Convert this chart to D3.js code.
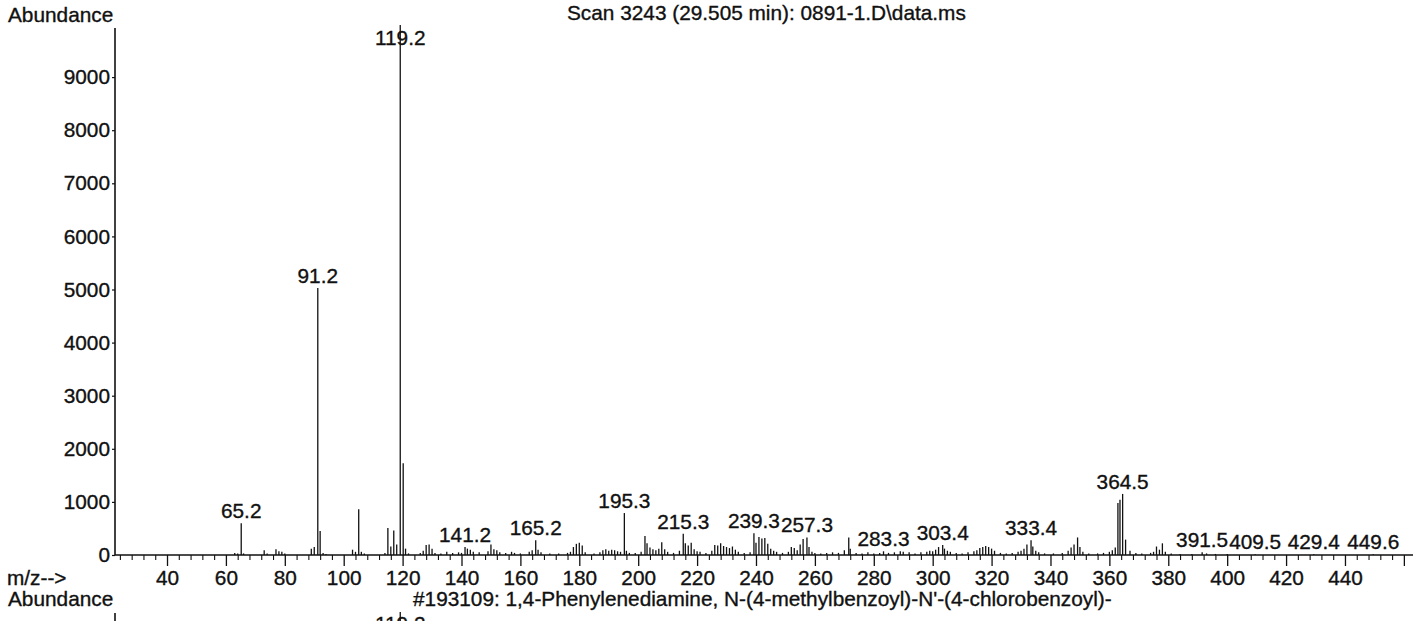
<!DOCTYPE html>
<html>
<head>
<meta charset="utf-8">
<script src="https://cdn.jsdelivr.net/npm/d3@7"></script>
<style>
  html, body { margin: 0; padding: 0; background: #fff; }
  svg { display: block; }
  text { font-family: "Liberation Sans", Arial, Helvetica, sans-serif; fill: #111; stroke: #111; stroke-width: 0.35px; }
</style>
</head>
<body>
<svg id="chart" width="1425" height="621"></svg>
<script>
// Scan 3243 (29.505 min) mass spectrum: m/z and abundance of each centroided peak
const mzValues = [
  63, 64, 65.2, 66, 73, 74, 77, 78, 79, 80,
  89, 90, 91.2, 92, 93, 94,
  103, 104, 105.1, 106, 107,
  114, 115, 116, 117, 118, 119.2, 120.2, 121, 122,
  126, 127, 128, 129, 130, 131, 133, 135, 137, 139, 140, 141.2, 142, 143, 144, 146,
  149, 150, 151, 152, 153, 155, 157, 158, 160, 163, 164, 165.2, 166, 167, 170, 173,
  176, 177, 178, 179, 180, 181, 182, 185, 187, 188, 189, 190, 191, 192, 193, 194,
  195.3, 196, 197, 199, 201, 202.3, 203, 204, 205, 206, 207, 208, 209, 210, 212, 214,
  215.3, 216, 217, 218, 219, 220, 221, 223, 225, 226, 227, 228, 229, 230, 231, 232, 233, 234, 236, 238,
  239.3, 240, 241, 242, 243, 244, 245, 246, 247, 249, 251, 252, 253, 254, 255, 256,
  257.3, 258, 259, 260, 262, 264, 266, 268, 270, 271.5, 272, 274, 276, 278, 280, 282,
  283.3, 285, 287, 289, 290, 292, 294, 296, 298, 299, 300, 301, 302,
  303.4, 304, 305, 306, 308, 310, 312, 314, 315, 316, 317, 318, 319, 320, 321, 323, 325, 327, 329, 330, 331, 332,
  333.4, 334, 335, 336, 338, 341, 344, 346, 347, 348, 349.2, 350, 351, 353, 356, 358, 360, 361, 362, 362.9, 363.6,
  364.5, 365.5, 367, 369, 371, 374, 375, 376, 377, 378, 379, 381, 384, 388,
  391.5, 393, 396, 400, 409.5, 429.4, 449.6
];
const abundanceValues = [
  40, 30, 600, 30, 90, 30, 110, 70, 60, 30,
  120, 150, 5030, 450, 40, 20,
  100, 60, 860, 60, 30,
  40, 510, 160, 460, 200, 9980, 1730, 120, 30,
  40, 80, 190, 200, 120, 40, 30, 60, 40, 50, 40, 150, 120, 100, 60, 50,
  70, 200, 110, 90, 50, 40, 60, 40, 30, 60, 90, 280, 100, 50, 30, 30,
  40, 60, 150, 210, 230, 180, 50, 30, 50, 90, 110, 80, 100, 90, 70, 60,
  790, 80, 40, 40, 60, 360, 220, 140, 110, 90, 120, 240, 110, 60, 40, 80,
  400, 220, 180, 230, 110, 70, 60, 40, 80, 190, 180, 220, 170, 150, 130, 160, 100, 60, 40, 50,
  410, 230, 340, 310, 320, 210, 120, 80, 60, 40, 60, 150, 130, 90, 200, 300,
  330, 150, 60, 40, 30, 40, 50, 40, 90, 330, 120, 40, 30, 50, 30, 40,
  70, 40, 50, 70, 60, 50, 30, 50, 60, 80, 70, 100, 150,
  190, 120, 80, 60, 40, 30, 50, 70, 90, 130, 150, 170, 150, 120, 80, 40, 30, 40, 60, 80, 120, 200,
  280, 160, 80, 50, 30, 30, 40, 80, 140, 200, 330, 150, 60, 30, 30, 40, 60, 90, 140, 980, 1040,
  1150, 290, 80, 40, 30, 40, 60, 160, 100, 220, 60, 30, 20, 20,
  50, 30, 20, 20, 15, 15, 15
];
// peaks that carry an m/z label
const labelledMz = [65.2, 91.2, 119.2, 141.2, 165.2, 195.3, 215.3, 239.3, 257.3,
  283.3, 303.4, 333.4, 364.5, 391.5, 409.5, 429.4, 449.6];
const yTickValues = [0, 1000, 2000, 3000, 4000, 5000, 6000, 7000, 8000, 9000];
const xMajorTicks = [40, 60, 80, 100, 120, 140, 160, 180, 200, 220, 240, 260, 280, 300,
  320, 340, 360, 380, 400, 420, 440, 460];
const xMinorStep = 4;

const titleText = "Scan 3243 (29.505 min): 0891-1.D\\data.ms";
const libraryText = "#193109: 1,4-Phenylenediamine, N-(4-methylbenzoyl)-N'-(4-chlorobenzoyl)-";

const peaks = mzValues.map((m, i) => ({ mz: m, ab: abundanceValues[i] }));

const svg = d3.select("#chart");
const FONT = 20.8;

const x = d3.scaleLinear().domain([22.34, 463.1]).range([115, 1413]);
const y = d3.scaleLinear().domain([0, 10000]).range([555, 24]);

// spectrum sticks
svg.append("g")
  .selectAll("line")
  .data(peaks)
  .join("line")
  .attr("x1", d => x(d.mz)).attr("x2", d => x(d.mz))
  .attr("y1", y(0)).attr("y2", d => y(d.ab))
  .attr("stroke", "#111")
  .attr("stroke-width", 1.3);

// y axis
const yAxis = d3.axisLeft(y).tickValues(yTickValues).tickSize(3).tickPadding(2)
  .tickFormat(d3.format("d")).tickSizeOuter(0);
const gy = svg.append("g").attr("transform", "translate(115,0)").call(yAxis);
gy.select(".domain").remove();
gy.selectAll("text").style("font-size", FONT + "px").attr("fill", "#111");
gy.selectAll("line").attr("stroke", "#111").attr("stroke-width", 1.2);
svg.append("line").attr("x1", 115).attr("x2", 115).attr("y1", y(0)).attr("y2", 28)
  .attr("stroke", "#111").attr("stroke-width", 1.6);

// x axis: labelled major ticks and short minor ticks
const xAxis = d3.axisBottom(x).tickValues(xMajorTicks).tickSize(11).tickPadding(4)
  .tickFormat(d => d === 460 ? "" : d).tickSizeOuter(0);
const gx = svg.append("g").attr("transform", `translate(0,${y(0)})`).call(xAxis);
gx.select(".domain").remove();
gx.selectAll("text").style("font-size", FONT + "px").attr("fill", "#111");
gx.selectAll("line").attr("stroke", "#111").attr("stroke-width", 1.3);

const minorTicks = d3.range(24, 461, xMinorStep).filter(v => !xMajorTicks.includes(v));
const xMinor = d3.axisBottom(x).tickValues(minorTicks).tickSize(5).tickFormat("").tickSizeOuter(0);
const gxm = svg.append("g").attr("transform", `translate(0,${y(0)})`).call(xMinor);
gxm.select(".domain").remove();
gxm.selectAll("line").attr("stroke", "#111").attr("stroke-width", 1.1);

svg.append("line").attr("x1", 115).attr("x2", 1413).attr("y1", y(0)).attr("y2", y(0))
  .attr("stroke", "#111").attr("stroke-width", 1.6);

// peak labels sit just above their stick, kept inside the plot
const fmt = d3.format(".1f");
svg.append("g")
  .selectAll("text")
  .data(labelledMz.map(m => peaks.find(p => p.mz === m)))
  .join("text")
  .attr("x", d => x(d.mz))
  .attr("y", d => Math.max(y(d.ab) - 5, 45))
  .attr("text-anchor", "middle")
  .style("font-size", FONT + "px")
  .text(d => fmt(d.mz));

// header and footer texts
svg.append("text").attr("x", 8).attr("y", 22).style("font-size", FONT + "px").text("Abundance");
svg.append("text").attr("x", 567).attr("y", 20).style("font-size", FONT + "px").text(titleText);
svg.append("text").attr("x", 7).attr("y", 585).style("font-size", FONT + "px").text("m/z-->");
svg.append("text").attr("x", 8).attr("y", 606).style("font-size", FONT + "px").text("Abundance");
svg.append("text").attr("x", 413).attr("y", 606).style("font-size", FONT + "px").text(libraryText);

// top of the library spectrum below, cut off by the page edge
svg.append("line").attr("x1", 115).attr("x2", 115).attr("y1", 613).attr("y2", 621)
  .attr("stroke", "#111").attr("stroke-width", 1.6);
svg.append("line").attr("x1", x(119.2)).attr("x2", x(119.2)).attr("y1", 612).attr("y2", 621)
  .attr("stroke", "#111").attr("stroke-width", 1.3);
svg.append("text").attr("x", x(119.2)).attr("y", 631).attr("text-anchor", "middle")
  .style("font-size", FONT + "px").text(fmt(119.2));
</script>
</body>
</html>
